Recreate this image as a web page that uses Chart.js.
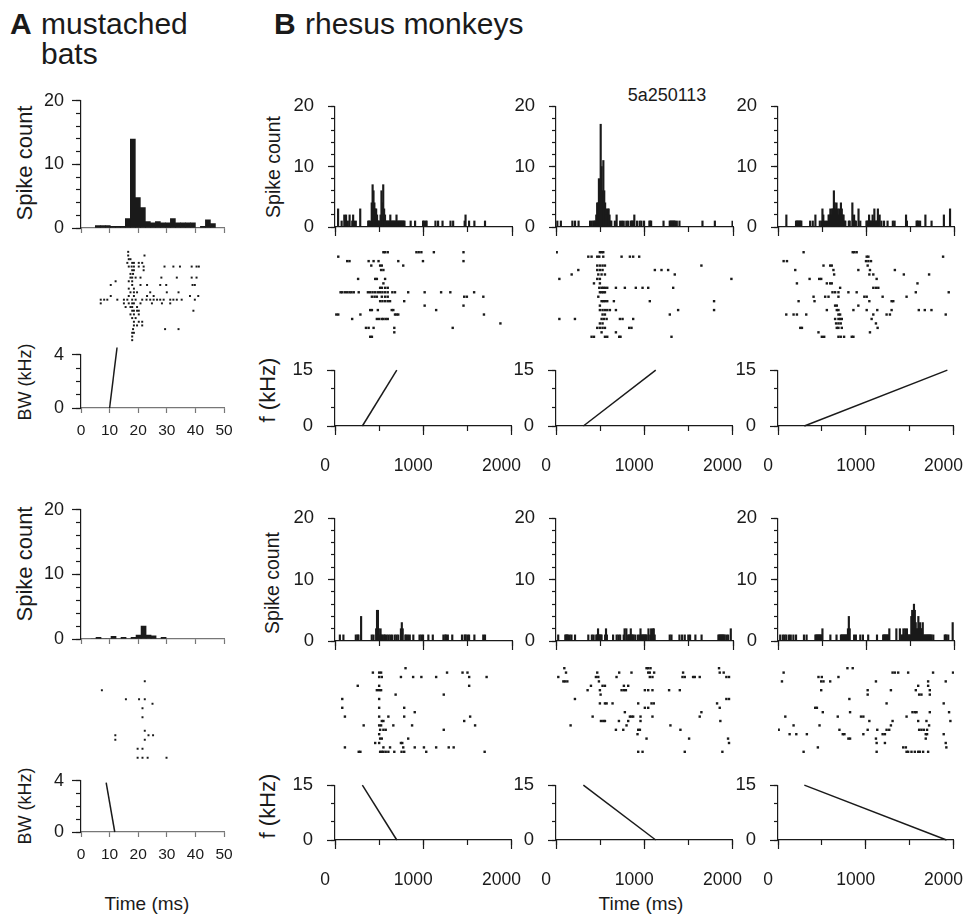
<!DOCTYPE html>
<html>
<head>
<meta charset="utf-8">
<script src="https://cdn.jsdelivr.net/npm/chart.js@4.4.1/dist/chart.umd.min.js"></script>
<style>
  body { margin: 0; background: #fff; }
  #fig { position: relative; width: 968px; height: 922px; overflow: hidden; background: #fff;
         font-family: 'Liberation Sans', Arial, sans-serif; color: #1a1a1a; }
  #fig canvas { position: absolute; }
  .txt { position: absolute; white-space: nowrap; line-height: 1; }
  .ctr { position: absolute; white-space: nowrap; line-height: 1; transform: translate(-50%, -50%); }
  .rot { position: absolute; white-space: nowrap; line-height: 1; transform: translate(-50%, -50%) rotate(-90deg); }
</style>
</head>
<body>
<div id="fig">
  <div class="txt" style="left:10px;top:9px;font-size:30px;font-weight:bold">A</div>
  <div class="txt" style="left:41px;top:9px;font-size:30px">mustached</div>
  <div class="txt" style="left:41px;top:39px;font-size:30px">bats</div>
  <div class="txt" style="left:274px;top:9px;font-size:30px;font-weight:bold">B</div>
  <div class="txt" style="left:305px;top:9px;font-size:30px">rhesus monkeys</div>

  <div class="ctr" style="left:667px;top:95px;font-size:18px">5a250113</div>

  <div class="rot" style="left:25px;top:163px;font-size:22px">Spike count</div>
  <div class="rot" style="left:25px;top:382px;font-size:18px">BW (kHz)</div>
  <div class="rot" style="left:25px;top:564px;font-size:22px">Spike count</div>
  <div class="rot" style="left:25px;top:806px;font-size:18px">BW (kHz)</div>

  <div class="rot" style="left:274px;top:167px;font-size:19.5px">Spike count</div>
  <div class="rot" style="left:268px;top:390px;font-size:22px">f (kHz)</div>
  <div class="rot" style="left:273px;top:583px;font-size:19.5px">Spike count</div>
  <div class="rot" style="left:268px;top:806px;font-size:22px">f (kHz)</div>

  <div class="ctr" style="left:147px;top:903px;font-size:19px">Time (ms)</div>
  <div class="ctr" style="left:641px;top:903px;font-size:19px">Time (ms)</div>
</div>
<script>
// bats: histogram bins of 1.75 ms
const batBinWidth = 1.75;
const batBinStartTop = 5;
const batBinStartBottom = 3.5;
const batTopCounts = [0.4, 0.4, 0.4, 0.25, 0.25, 0.25, 1.5, 14, 4.8, 3.2, 1, 0.8, 1, 0.8, 0.8, 1.5, 0.8, 0.8, 0.8, 0.8, 0, 0.25, 1.3, 0.7];
const batBottomCounts = [0, 0.25, 0, 0, 0.4, 0, 0.25, 0, 0.25, 0.6, 2, 0.6, 0.5, 0, 0.25];

// spike times (ms) per trial, trial 1 first
const batTopTrials = [
  [16.5], [16.5, 22.2], [16.7, 17.3], [16.2, 17.9, 18.5, 20.2, 21.4],
  [16.7, 17.7, 18.5, 20.2, 21.9, 29.2, 32.3, 34.6, 38.7, 40.4, 41.2],
  [17.9, 18.5, 21.9], [17.3, 18.2], [17.3, 17.9, 19.1, 20.8, 28.1, 33.5, 38.7, 40.4],
  [12.1, 16.7, 17.9], [10.4, 17.9, 20.8, 23.1, 27.7, 29.8, 39, 39.8], [16.7, 18.5],
  [17.3, 18.5, 19.6, 24.2, 30, 34.1], [10.4, 16.7, 18.5, 23.1, 25.4, 38.1, 41],
  [6.9, 8.1, 9.2, 12.7, 15, 16.2, 17.9, 19.1, 21.4, 22.9, 24.2, 25.4, 26.6, 27.7, 28.9, 31.2, 32.3, 33.5, 35.2, 39.8],
  [6.9, 15, 16.7, 17.9, 18.5, 20.8, 24.8, 28.3, 31.2], [15.6, 17.3, 17.9, 19.6],
  [17.9, 18.5, 19.6, 20.2, 39.3], [17.3, 18.5, 20.2], [17.9, 19.1], [18.5, 20.2, 21.4],
  [18.5, 19.6, 21.4], [18.2, 29.4, 34.1], [17.9, 18.5], [17.9], [17.9]
];
const batBottomTrials = [
  [], [], [22.3], [], [7.3], [], [15.7, 20.3, 22.3], [25], [21.5], [], [21.5], [], [],
  [22.3], [12, 23.6, 25.2], [12, 22.3], [], [19.8, 21.5], [], [19.8, 21.5, 23.3, 29.9]
];

// sweeps: [time ms, value]
const batSweepUp = [[10, 0], [12.6, 4.55]];
const batSweepDown = [[8.8, 3.85], [11.8, 0]];

// monkeys: 10 ms bins, [bin start, count]
const monkeyBinWidth = 10;
const upCounts1 = [[30,3],[70,1],[100,2],[120,2],[140,1],[160,2],[190,1],[200,2],[210,1],[230,1],[280,3],[370,1],[380,1],[390,1],[410,4],[420,7],[430,6],[440,4],[450,3],[460,3],[470,2],[480,1],[490,1],[500,1],[510,2],[520,6],[530,4],[540,7],[550,3],[560,2],[570,1],[580,1],[590,1],[600,1],[610,1],[620,2],[630,1],[640,1],[650,1],[660,1],[670,1],[680,1],[690,2],[700,1],[710,1],[720,1],[730,1],[740,1],[750,1],[760,1],[770,1],[780,1],[850,1],[900,1],[990,1],[1000,1],[1020,1],[1030,1],[1130,1],[1160,1],[1210,1],[1300,1],[1330,1],[1460,1],[1470,2],[1510,1],[1570,1],[1690,1]];
const upCounts2 = [[10,1],[50,1],[180,1],[210,1],[250,1],[380,1],[400,1],[420,1],[430,1],[440,1],[450,2],[460,4],[470,4],[480,8],[490,4],[500,17],[510,10],[520,6],[530,11],[540,6],[550,4],[560,3],[570,2],[580,3],[590,3],[600,2],[610,1],[620,1],[660,1],[680,2],[720,1],[740,1],[760,1],[790,1],[810,1],[840,1],[850,1],[860,1],[870,1],[880,2],[910,1],[940,1],[960,1],[990,1],[1050,1],[1060,1],[1070,1],[1210,1],[1280,1],[1290,1],[1300,1],[1310,1],[1320,1],[1330,1],[1340,1],[1360,1],[1390,1],[1650,1],[1790,1],[1990,1]];
const upCounts3 = [[90,2],[200,1],[210,1],[220,1],[230,1],[240,1],[250,1],[260,1],[360,1],[390,1],[420,2],[470,1],[490,1],[500,3],[510,2],[520,1],[540,1],[560,1],[570,2],[580,2],[590,3],[600,2],[610,3],[620,3],[630,6],[640,4],[650,3],[660,4],[670,3],[680,2],[690,3],[700,2],[710,4],[720,3],[730,2],[740,2],[750,1],[760,1],[800,1],[810,1],[840,4],[850,1],[860,2],[870,1],[880,1],[910,3],[930,1],[1000,1],[1010,1],[1020,1],[1030,2],[1040,1],[1050,1],[1060,1],[1070,2],[1080,1],[1090,3],[1100,1],[1110,1],[1120,1],[1130,3],[1140,1],[1150,2],[1170,1],[1200,1],[1240,1],[1300,1],[1320,1],[1450,2],[1460,1],[1570,1],[1580,1],[1590,1],[1610,1],[1670,2],[1740,1],[1880,2],[1950,3]];
const downCounts1 = [[50,1],[90,1],[230,1],[250,1],[260,1],[290,4],[410,1],[430,1],[460,2],[470,5],[480,5],[490,2],[500,1],[510,2],[520,1],[530,1],[550,1],[560,1],[580,1],[600,1],[620,1],[640,1],[670,1],[690,1],[710,1],[740,2],[750,3],[760,2],[790,1],[800,1],[820,1],[840,1],[880,1],[950,1],[970,1],[990,1],[1050,1],[1100,1],[1220,1],[1240,1],[1250,1],[1270,1],[1320,1],[1430,1],[1460,1],[1470,1],[1490,1],[1510,1],[1570,1],[1670,1],[1690,1]];
const downCounts2 = [[20,1],[100,1],[110,1],[120,1],[130,1],[150,1],[170,1],[210,1],[360,1],[400,1],[420,1],[450,1],[460,1],[470,2],[480,1],[490,1],[500,1],[510,1],[550,1],[560,2],[570,1],[640,1],[680,1],[700,1],[720,1],[760,1],[770,2],[790,2],[810,1],[820,1],[830,1],[840,2],[850,1],[860,1],[870,1],[890,1],[920,1],[940,1],[950,2],[960,1],[970,1],[980,1],[990,1],[1000,1],[1010,1],[1020,1],[1040,2],[1060,1],[1070,2],[1080,1],[1090,2],[1100,2],[1110,1],[1280,1],[1300,1],[1390,1],[1420,1],[1450,1],[1490,1],[1510,1],[1570,1],[1640,1],[1830,1],[1840,1],[1850,1],[1860,1],[1870,1],[1880,1],[1890,1],[1900,1],[1920,1],[1940,1],[1970,2]];
const downCounts3 = [[20,1],[50,1],[70,1],[90,1],[120,1],[140,1],[170,1],[200,1],[290,1],[320,1],[420,1],[430,1],[440,1],[450,1],[460,1],[470,1],[480,1],[490,1],[500,2],[590,1],[660,1],[710,1],[720,1],[730,1],[740,1],[750,1],[760,1],[770,1],[780,1],[790,2],[800,4],[810,2],[860,1],[880,1],[930,1],[960,1],[1020,1],[1120,1],[1190,1],[1200,1],[1210,1],[1220,1],[1230,1],[1240,1],[1250,1],[1260,2],[1340,2],[1380,2],[1400,1],[1410,1],[1420,2],[1430,1],[1440,2],[1450,1],[1460,2],[1470,1],[1480,1],[1490,1],[1500,1],[1510,4],[1520,5],[1530,3],[1540,6],[1550,5],[1560,3],[1570,2],[1580,2],[1590,4],[1600,2],[1610,3],[1620,2],[1630,2],[1640,3],[1650,1],[1660,1],[1670,1],[1680,1],[1690,1],[1700,1],[1710,1],[1720,1],[1730,1],[1740,1],[1760,1],[1890,1],[1900,1],[1910,1],[1930,1],[1980,3]];

const upTrials1 = [
  [547,566,596,920,946,976,1117,1452], [37], [138,164,380,436,492,715,994,1452], [410,510,529,771],
  [521,547], [], [261,454,473,566], [547], [510,529,566,596],
  [63,82,112,138,164,186,212,268,372,398,425,454,484,510,536,566,596,648,678,827,1013,1199,1303,1572],
  [417,447,473,529,566,596,1460,1490,1676], [510,536,566,596,622,782], [1013,1452],
  [398,417,484,641,659,1143], [15,37,287,678,696,715,1683], [194,473,499,529,547,573,596],
  [1869], [350,380,436,670,1330], [670], [398,417]
];
const upTrials2 = [
  [8,496,515,534], [365,402,466,489,534,741,835,872,940], [], [466,496,526,553,1643],
  [252,466,496,526,1117,1192,1267], [177,478,515,553,1342], [38,466,496,1982], [429,496],
  [489,515,534,553,579,677,778,902,978,1042,1324], [496,515,534,553], [478],
  [515,534,553,579,654,1060,1786], [496], [496,526,553,579,609,677,1380,1786], [526,553,1286],
  [38,214,515,541,572,722,752,872], [496,526], [466,496,526,553,827,853], [515,677],
  [402,429,553,579,714,729,1305]
];
const upTrials3 = [
  [291,849,868,894], [1008,1027,1876], [64,102,1000,1027,1057], [517,593,611,1019],
  [196,630,913,1045,1328], [638,1038,1083,1430,1717], [359,468,491,1121], [215,555,593,611,1585],
  [706,1083,1113,1140], [619,649,687,800,894,1566,1940], [404,536,574,687,981,1008,1189,1461],
  [234,415,1038,1291,1310], [649,668,913], [555,668,687,857,1008,1128,1291,1600,1668,1744],
  [94,177,215,321,687,706,1083,1234,1272,1906], [649,687,706,725,1064], [660,687,713,1113],
  [253,272,668,687,725,1132], [460,1045], [498,525,687,713,751,838,857]
];
const downTrials1 = [
  [797], [428,499,521,1266,1441,1497], [499,529,745,883,976,1143,1516,1713], [],
  [257,499,1516], [473,499,521], [685,1229], [82,499], [], [82,499,782], [901],
  [112,499,603,782,1527], [529,547,1460], [324,499,521,659,871,1583], [510,547,573,1229],
  [499], [510,529,827], [454,499,745,760], [112,547,622,771,901,1005,1143,1285,1341],
  [268,287,510,529,547,573,603,670,752,782,1031,1691]
];
const downTrials2 = [
  [94,1023,1042,1068,1842], [113,466,714,853,1042,1060,1109,1436,1850,1895],
  [26,451,478,684,1060,1090,1429,1455,1549,1568,1624,1925,1955], [83,102,128,485],
  [395,526,553,767,816], [357,496,741,767,790,1004,1042,1090,1278,1399], [504], [214,1925,1955],
  [496,553,572,639,929,1079,1105,1820], [1004,1042,1850], [778,1643],
  [414,835,853,872,955,1090,1624], [508,534,553,711,816,955,1857], [165,797,1293],
  [677,760,929,948,1406], [921], [1023,1504,1944], [1955], [], [929,978,1455,1880]
];
const downTrials3 = [
  [789,849], [64,1302,1328,1366,1479,1762,1989], [460,498,687], [45,491,517,593,1113,1706,1906],
  [1593,1706], [491,1019,1283,1566,1725], [1019,1604,1630,1725], [811], [1234,1883], [423,442],
  [509,819,1528,1555,1574,1725,1944], [83,679,943,970,1461], [1038,1302,1593,1687,1959],
  [177,472,1283,1717], [8,698,1019,1128,1234,1264,1604,1630,1657,1694],
  [132,208,328,736,755,970,1189,1215,1679,1694,1883], [800,819,1113,1679], [1121,1215,1906],
  [453,1423,1453,1913], [291,1121,1461,1479,1517,1555,1593,1611,1649,1706]
];

const upSweeps = [[[310, 0], [700, 15]], [[310, 0], [1130, 15]], [[300, 0], [1930, 15]]];
const downSweeps = [[[310, 15], [700, 0]], [[310, 15], [1130, 0]], [[300, 15], [1920, 0]]];

const upCounts = [upCounts1, upCounts2, upCounts3];
const downCounts = [downCounts1, downCounts2, downCounts3];
const upTrials = [upTrials1, upTrials2, upTrials3];
const downTrials = [downTrials1, downTrials2, downTrials3];

const INK = '#1a1a1a';
Chart.defaults.font.family = "'Liberation Sans', Arial, sans-serif";
Chart.defaults.color = INK;

const fig = document.getElementById('fig');
const ML = 60, MR = 40, MT = 14, MB = 50;
const axisPad = { left: 0, right: MR, top: MT, bottom: 0 };
const rasterPad = { left: ML, right: MR, top: MT, bottom: MB };

function addChart(box, cfg, pad) {
    const w = box.r - box.l + ML + MR;
    const h = box.b - box.t + MT + MB;
    const cv = document.createElement('canvas');
    cv.width = w;
    cv.height = h;
    cv.style.cssText = `left:${box.l - ML}px;top:${box.t - MT}px;width:${w}px;height:${h}px`;
    fig.appendChild(cv);
    cfg.options.responsive = false;
    cfg.options.animation = false;
    cfg.options.events = [];
    cfg.options.layout = { padding: pad };
    cfg.options.plugins = { legend: { display: false }, tooltip: { enabled: false } };
    return new Chart(cv, cfg);
}

// one axis; minor axes have no size and sit next to the plot so only their tick marks show
function axis(pos, min, max, step, tl, size, o = {}) {
    const horiz = pos === 'bottom';
    const color = o.color || INK;
    return {
        type: 'linear', axis: horiz ? 'x' : 'y', position: pos, min, max,
        offset: false, weight: o.weight || 0,
        ticks: {
            display: !!o.font, stepSize: step, autoSkip: false, maxRotation: 0, minRotation: 0,
            font: { size: o.font || 12 }, color: INK, padding: o.pad || 4, labelOffset: o.lo || 0,
            callback: v => String(v)
        },
        grid: { display: true, drawOnChartArea: false, drawTicks: true, tickLength: tl,
                tickColor: color, tickWidth: 1.2, offset: false },
        border: { display: !o.minor, color: color, width: 1.2 },
        afterFit: s => { if (horiz) s.height = size; else s.width = size; }
    };
}

function batX(labels) {
    return { x: axis('bottom', 0, 50, 10, 5, MB, { weight: 5, color: '#777', font: labels ? 15.5 : 0, pad: 8 }) };
}
function monkeyX(labels) {
    return {
        x: axis('bottom', 0, 2000, 1000, 9, MB, { weight: 5, font: labels ? 17.5 : 0, pad: 21, lo: -10 }),
        xm: axis('bottom', 0, 2000, 500, 5, 0, { minor: true })
    };
}
function countY(bat) {
    return {
        y: axis('left', 0, 20, 10, bat ? 9 : 7, ML, { weight: 5, font: bat ? 18 : 18.5, pad: bat ? 8 : 14 }),
        ym: axis('left', 0, 20, 2, bat ? 5 : 4, 0, { minor: true })
    };
}
function freqY(bat) {
    if (bat) {
        return {
            y: axis('left', 0, 4, 4, 9, ML, { weight: 5, font: 18, pad: 8 }),
            ym: axis('left', 0, 4, 1, 5, 0, { minor: true })
        };
    }
    return {
        y: axis('left', 0, 15, 15, 8, ML, { weight: 5, font: 18.5, pad: 14 }),
        ym: axis('left', 0, 15, 5, 4, 0, { minor: true })
    };
}

function histogram(box, bars, thickness, xs, ys) {
    const ds = { data: bars, backgroundColor: INK, borderWidth: 0, barPercentage: 1, categoryPercentage: 1 };
    if (thickness) ds.barThickness = thickness;
    addChart(box, { type: 'bar', data: { datasets: [ds] },
        options: { scales: Object.assign({}, xs, ys) } }, axisPad);
}

function raster(box, trials, xmax, size) {
    const pts = trials.flatMap((times, i) => times.map(t => ({ x: t, y: i + 1 })));
    addChart(box, {
        type: 'scatter',
        data: { datasets: [{ data: pts, pointStyle: 'rect', pointRadius: size,
                             pointBackgroundColor: INK, pointBorderWidth: 0 }] },
        options: { scales: {
            x: { type: 'linear', display: false, min: 0, max: xmax },
            y: { type: 'linear', display: false, min: 0.5, max: trials.length + 0.5, reverse: true }
        } }
    }, rasterPad);
}

function sweep(box, pts, xs, ys) {
    addChart(box, {
        type: 'line',
        data: { datasets: [{ data: pts.map(([t, f]) => ({ x: t, y: f })), borderColor: INK,
                             borderWidth: 1.5, pointRadius: 0, fill: false, tension: 0, clip: false }] },
        options: { scales: Object.assign({}, xs, ys) }
    }, axisPad);
}

const batBars = (counts, start) => counts.map((c, i) => ({ x: start + (i + 0.5) * batBinWidth, y: c }));
const monkeyBars = pairs => pairs.map(([t, c]) => ({ x: t + monkeyBinWidth / 2, y: c }));

const colA = { l: 81, r: 224 };
const colsB = [{ l: 335, r: 512 }, { l: 556, r: 733 }, { l: 778, r: 954 }];
const box = (c, t, b) => ({ l: c.l, r: c.r, t, b });

histogram(box(colA, 96, 228), batBars(batTopCounts, batBinStartTop), 0, batX(false), countY(true));
raster(box(colA, 250, 342), batTopTrials, 50, 1.4);
sweep(box(colA, 350, 408), batSweepUp, batX(true), freqY(true));

histogram(box(colA, 505, 639), batBars(batBottomCounts, batBinStartBottom), 0, batX(false), countY(true));
raster(box(colA, 670, 760), batBottomTrials, 50, 1.4);
sweep(box(colA, 776, 832), batSweepDown, batX(true), freqY(true));

colsB.forEach((c, i) => {
    histogram(box(c, 95, 227), monkeyBars(upCounts[i]), 1.5, monkeyX(false), countY(false));
    raster(box(c, 250, 339), upTrials[i], 2000, 1.7);
    sweep(box(c, 359, 426), upSweeps[i], monkeyX(true), freqY(false));

    histogram(box(c, 507, 641), monkeyBars(downCounts[i]), 1.5, monkeyX(false), countY(false));
    raster(box(c, 666, 754), downTrials[i], 2000, 1.7);
    sweep(box(c, 774, 840), downSweeps[i], monkeyX(true), freqY(false));
});
</script>
</body>
</html>
